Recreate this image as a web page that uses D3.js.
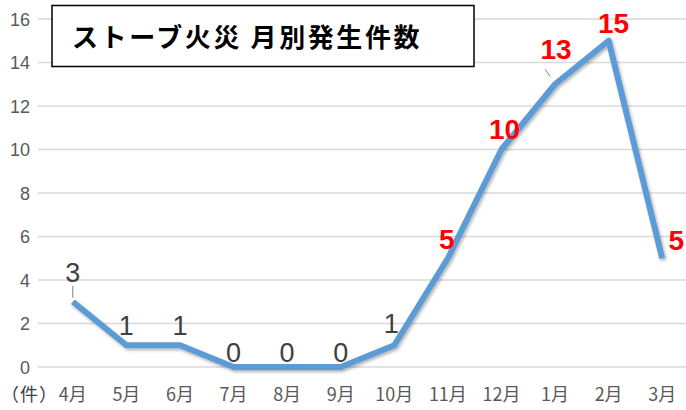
<!DOCTYPE html>
<html lang="ja">
<head>
<meta charset="UTF-8">
<title>ストーブ火災 月別発生件数</title>
<script src="https://d3js.org/d3.v7.min.js"></script>
<style>
    body {
        margin: 0;
        padding: 0;
        background: #ffffff;
        font-family: 'Noto Sans CJK JP', 'Noto Sans', sans-serif;
    }
    .grid line {
        stroke: #d9d9d9;
        stroke-width: 1.5px;
    }
    .tick-label {
        fill: #595959;
    }
</style>
</head>
<body>
<svg id="chart" width="686" height="410"></svg>
<script>
    // data
    var months = ["4月", "5月", "6月", "7月", "8月", "9月", "10月", "11月", "12月", "1月", "2月", "3月"];
    var counts = [3, 1, 1, 0, 0, 0, 1, 5, 10, 13, 15, 5];
    var yTicks = [0, 2, 4, 6, 8, 10, 12, 14, 16];
    var highlight = [false, false, false, false, false, false, false, true, true, true, true, true];
    // label offsets from point (dx, dy)
    var labelOffset = [[0, -20], [0, -10], [0, -10], [0, -5], [0, -5], [0, -5], [-3, -12], [-1, -9], [3, -11], [1, -25], [5, -8], [14, -8]];

    var svg = d3.select("#chart");
    var margin = { left: 46, right: -3, top: 19, bottom: 43 };
    var width = 686, height = 410;

    var x = d3.scaleBand()
        .domain(months)
        .range([margin.left, width - margin.right]);

    var y = d3.scaleLinear()
        .domain([0, 16])
        .range([height - margin.bottom, margin.top]);

    // gridlines
    svg.append("g").attr("class", "grid")
        .selectAll("line")
        .data(yTicks)
        .enter().append("line")
        .attr("x1", margin.left - 8)
        .attr("x2", width)
        .attr("y1", function(d) { return y(d); })
        .attr("y2", function(d) { return y(d); });

    // y tick labels
    svg.append("g")
        .selectAll("text")
        .data(yTicks)
        .enter().append("text")
        .attr("class", "tick-label")
        .attr("x", 30)
        .attr("y", function(d) { return y(d) + 6.5; })
        .attr("text-anchor", "end")
        .style("font-family", "'Liberation Sans', sans-serif")
        .style("font-size", "18px")
        .text(function(d) { return d; });

    // x labels
    svg.append("g")
        .selectAll("text")
        .data(months)
        .enter().append("text")
        .attr("class", "tick-label")
        .attr("x", function(d) { return x(d) + x.bandwidth() / 2; })
        .attr("y", 401)
        .attr("text-anchor", "middle")
        .style("font-size", "18px")
        .text(function(d) { return d; });

    svg.append("text")
        .attr("class", "tick-label")
        .attr("x", 1)
        .attr("y", 401)
        .style("font-size", "18px")
        .style("letter-spacing", "1px")
        .style("fill", "#404040")
        .text("（件）");

    // line with soft shadow
    var defs = svg.append("defs");
    var f = defs.append("filter").attr("id", "shadow")
        .attr("x", "-10%").attr("y", "-10%").attr("width", "120%").attr("height", "120%");
    f.append("feDropShadow")
        .attr("dx", 1.5).attr("dy", 2)
        .attr("stdDeviation", 1.5)
        .attr("flood-color", "#000")
        .attr("flood-opacity", 0.3);

    var line = d3.line()
        .x(function(d, i) { return x(months[i]) + x.bandwidth() / 2; })
        .y(function(d) { return y(d); });

    svg.append("path")
        .datum(counts)
        .attr("d", line)
        .attr("fill", "none")
        .attr("stroke", "#5b9bd5")
        .attr("stroke-width", 6)
        .attr("stroke-linejoin", "round")
        .attr("filter", "url(#shadow)");

    // leader lines (3 and 13)
    [0, 9].forEach(function(i) {
        var px = x(months[i]) + x.bandwidth() / 2, py = y(counts[i]);
        svg.append("line")
            .attr("x1", px - (i == 9 ? 5 : 0)).attr("y1", py - (i == 9 ? 8 : 4))
            .attr("x2", px - (i == 9 ? 10 : 0)).attr("y2", py - (i == 9 ? 15 : 16))
            .attr("stroke", "#7f7f7f").attr("stroke-width", 1);
    });

    // data labels
    svg.append("g")
        .selectAll("text")
        .data(counts)
        .enter().append("text")
        .attr("x", function(d, i) { return x(months[i]) + x.bandwidth() / 2 + labelOffset[i][0]; })
        .attr("y", function(d, i) { return y(d) + labelOffset[i][1]; })
        .attr("text-anchor", "middle")
        .style("font-family", "'Liberation Sans', sans-serif")
        .style("font-size", function(d, i) { return highlight[i] ? "28px" : "27px"; })
        .style("font-weight", function(d, i) { return highlight[i] ? "bold" : "normal"; })
        .style("fill", function(d, i) { return highlight[i] ? "#ff0000" : "#404040"; })
        .text(function(d) { return d; });

    // title box
    svg.append("rect")
        .attr("x", 52).attr("y", 5.5)
        .attr("width", 422).attr("height", 61)
        .attr("fill", "#fff")
        .attr("stroke", "#000")
        .attr("stroke-width", 1.5);

    svg.append("text")
        .attr("x", 72)
        .attr("y", 47)
        .style("font-size", "26px")
        .style("font-weight", "bold")
        .style("letter-spacing", "2.6px")
        .style("fill", "#000")
        .text("ストーブ火災 月別発生件数");
</script>
</body>
</html>
